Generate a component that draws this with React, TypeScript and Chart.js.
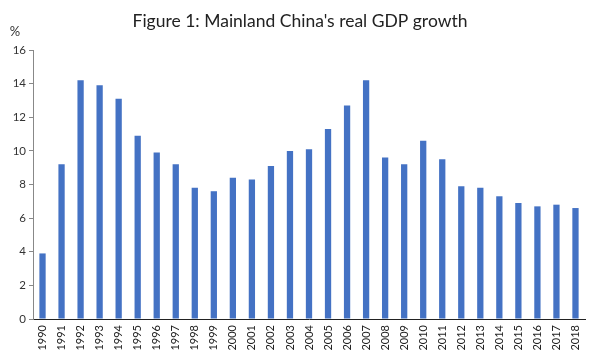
import React, { useEffect, useRef } from "react";
import { Chart, registerables } from "chart.js";

Chart.register(...registerables);

const years = [
  "1990", "1991", "1992", "1993", "1994", "1995", "1996", "1997", "1998", "1999",
  "2000", "2001", "2002", "2003", "2004", "2005", "2006", "2007", "2008", "2009",
  "2010", "2011", "2012", "2013", "2014", "2015", "2016", "2017", "2018",
];
const growth = [
  3.9, 9.2, 14.2, 13.9, 13.1, 10.9, 9.9, 9.2, 7.8, 7.6,
  8.4, 8.3, 9.1, 10.0, 10.1, 11.3, 12.7, 14.2, 9.6, 9.2,
  10.6, 9.5, 7.9, 7.8, 7.3, 6.9, 6.7, 6.8, 6.6,
];
const yTicks = [0, 2, 4, 6, 8, 10, 12, 14, 16];
const titleText = "Figure 1: Mainland China's real GDP growth";
const unitText = "%";

const FONT = "Lato, 'Open Sans', sans-serif";

export default function App() {
  const ref = useRef<HTMLCanvasElement | null>(null);
  useEffect(() => {
    document.body.style.margin = "0";
    const canvas = ref.current!;
    const extra = {
      id: "extraText",
      afterDraw(chart: any) {
        const ctx = chart.ctx;
        ctx.save();
        ctx.fillStyle = "#222";
        ctx.font = `17.5px ${FONT}`;
        ctx.textAlign = "center";
        ctx.textBaseline = "middle";
        ctx.fillText(titleText, 300, 21);
        ctx.font = `13px ${FONT}`;
        ctx.fillStyle = "#333";
        ctx.textAlign = "center";
        ctx.fillText(unitText, 15, 32);
        ctx.restore();
      },
    };
    const chart = new Chart(canvas, {
      type: "bar",
      data: {
        labels: years,
        datasets: [
          {
            data: growth,
            backgroundColor: "#4472C4",
            barPercentage: 0.33,
            categoryPercentage: 1,
          },
        ],
      },
      options: {
        animation: false,
        responsive: false,
        layout: { padding: { top: 50, right: 15, left: 0, bottom: 0 } },
        plugins: { legend: { display: false }, title: { display: false }, tooltip: { enabled: false } },
        scales: {
          x: {
            grid: { display: false, drawTicks: false },
            border: { color: "#222", width: 1 },
            ticks: {
              color: "#222",
              font: { family: FONT, size: 11 },
              minRotation: 90,
              maxRotation: 90,
              padding: 6,
              autoSkip: false,
            },
            afterFit(s: any) {
              s.height = 42;
            },
          },
          y: {
            min: 0,
            max: 16,
            afterBuildTicks(s: any) {
              s.ticks = yTicks.map((v) => ({ value: v }));
            },
            grid: { drawOnChartArea: false, drawTicks: true, tickLength: 4, color: "#888" },
            border: { color: "#888", width: 1 },
            ticks: { color: "#333", font: { family: FONT, size: 11.5 }, padding: 3 },
            afterFit(s: any) {
              s.width = 33;
            },
          },
        },
      },
      plugins: [extra],
    });
    return () => chart.destroy();
  }, []);
  return <canvas ref={ref} width={600} height={361} style={{ display: "block" }} />;
}
